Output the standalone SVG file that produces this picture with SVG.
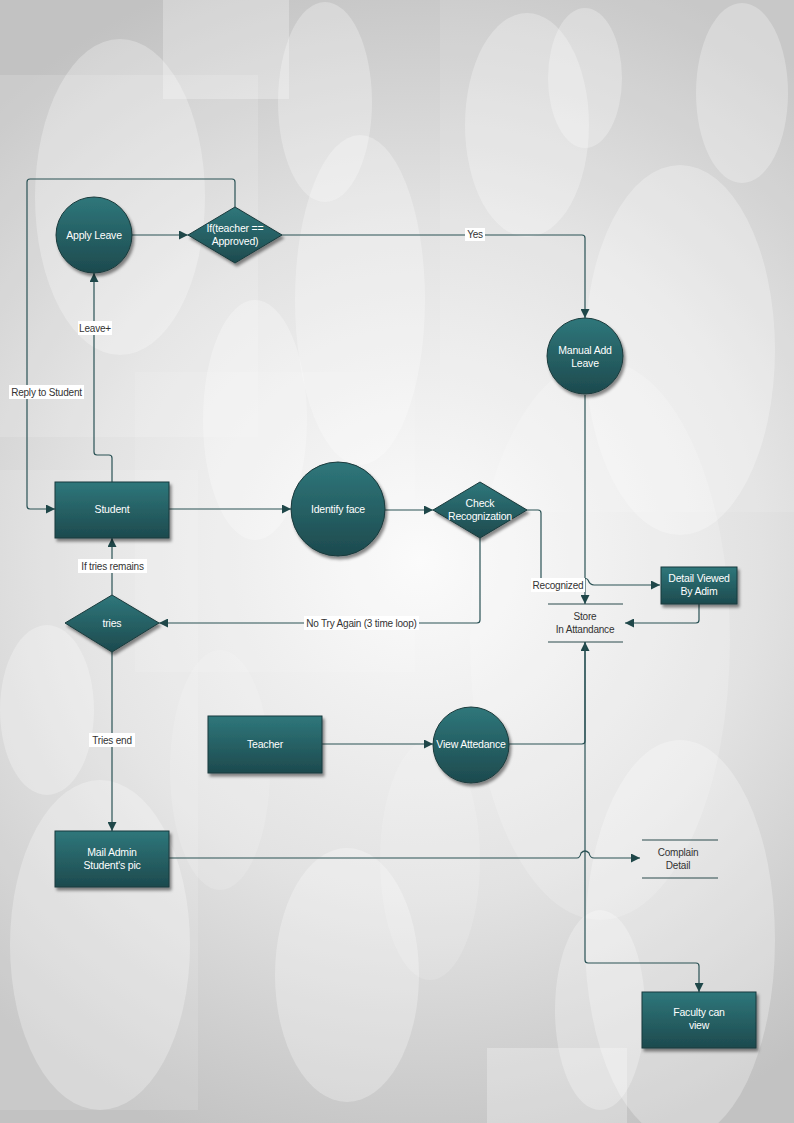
<svg xmlns="http://www.w3.org/2000/svg" width="794" height="1123" viewBox="0 0 794 1123">
  <defs>
    <radialGradient id="bg" cx="420" cy="560" r="620" gradientUnits="userSpaceOnUse">
      <stop offset="0" stop-color="#fbfbfb"/>
      <stop offset="0.55" stop-color="#e2e2e2"/>
      <stop offset="1" stop-color="#c2c2c2"/>
    </radialGradient>
    <linearGradient id="teal" x1="0" y1="0" x2="0" y2="1">
      <stop offset="0" stop-color="#2f777b"/>
      <stop offset="1" stop-color="#1d4a4e"/>
    </linearGradient>
    <filter id="shadow" x="-20%" y="-20%" width="150%" height="150%">
      <feDropShadow dx="2" dy="3" stdDeviation="1.8" flood-color="#000" flood-opacity="0.45"/>
    </filter>
    <marker id="arrow" viewBox="0 0 10 10" refX="10" refY="5" markerWidth="10" markerHeight="9" markerUnits="userSpaceOnUse" orient="auto">
      <path d="M0,0 L10,5 L0,10 z" fill="#1f4749"/>
    </marker>
  </defs>
  <style>
    .node { fill: url(#teal); stroke: #1a3a3c; stroke-width: 1; filter: url(#shadow); }
    .nt { font-family: "Liberation Sans", Arial, sans-serif; font-size: 10.5px; fill: #ffffff; text-anchor: middle; letter-spacing: -0.2px; }
    .edge { fill: none; stroke: #2a5255; stroke-width: 1.2; stroke-linejoin: round; }
    .arr { marker-end: url(#arrow); }
    .lbg { fill: #ffffff; }
    .lt { font-family: "Liberation Sans", Arial, sans-serif; font-size: 10px; fill: #333333; text-anchor: middle; letter-spacing: -0.2px; }
    .store { stroke: #2a4a4c; stroke-width: 1; }
    .haze { fill: #ffffff; fill-opacity: 0.28; }
  </style>

  <!-- page background -->
  <rect x="0" y="0" width="794" height="1123" fill="url(#bg)"/>
  <g id="background">
    <rect x="163" y="0" width="126" height="99" class="haze"/>
    <rect x="0" y="75" width="258" height="362" fill="#ffffff" fill-opacity="0.15"/>
    <rect x="0" y="470" width="198" height="640" fill="#ffffff" fill-opacity="0.12"/>
    <rect x="440" y="0" width="354" height="512" fill="#ffffff" fill-opacity="0.1"/>
    <rect x="135" y="372" width="280" height="300" fill="#ffffff" fill-opacity="0.1"/>
    <rect x="487" y="1048" width="140" height="75" class="haze"/>
    <ellipse cx="120" cy="197" rx="85" ry="158" class="haze"/>
    <ellipse cx="325" cy="102" rx="47" ry="100" class="haze"/>
    <ellipse cx="360" cy="300" rx="65" ry="165" class="haze"/>
    <ellipse cx="527" cy="125" rx="62" ry="112" class="haze"/>
    <ellipse cx="585" cy="78" rx="37" ry="70" class="haze"/>
    <ellipse cx="742" cy="93" rx="46" ry="90" class="haze"/>
    <ellipse cx="680" cy="350" rx="95" ry="185" class="haze"/>
    <ellipse cx="600" cy="640" rx="130" ry="280" fill="#ffffff" fill-opacity="0.18"/>
    <ellipse cx="255" cy="420" rx="52" ry="120" class="haze"/>
    <ellipse cx="47" cy="710" rx="47" ry="85" class="haze"/>
    <ellipse cx="100" cy="945" rx="90" ry="165" class="haze"/>
    <ellipse cx="220" cy="770" rx="50" ry="120" fill="#ffffff" fill-opacity="0.15"/>
    <ellipse cx="347" cy="975" rx="72" ry="127" class="haze"/>
    <ellipse cx="430" cy="860" rx="50" ry="120" fill="#ffffff" fill-opacity="0.15"/>
    <ellipse cx="680" cy="940" rx="95" ry="200" class="haze"/>
    <ellipse cx="600" cy="1010" rx="45" ry="100" class="haze"/>
  </g>

  <!-- connectors -->
  <g id="connectors">
    <!-- reply loop from decision back to student -->
    <path class="edge arr" d="M235,207 V182 Q235,179 232,179 H30 Q27,179 27,182 V506 Q27,509 30,509 H55"/>
    <!-- student to apply leave -->
    <path class="edge arr" d="M112,482 V458 Q112,455 109,455 H97 Q94,455 94,452 V273"/>
    <!-- apply leave to decision -->
    <path class="edge arr" d="M132,235 H188"/>
    <!-- yes branch -->
    <path class="edge arr" d="M282,235 H582 Q585,235 585,238 V318"/>
    <!-- manual add leave to store -->
    <path class="edge arr" d="M585,395 V604"/>
    <!-- student to identify face -->
    <path class="edge arr" d="M169,509 H291"/>
    <!-- identify face to check -->
    <path class="edge arr" d="M385,510 H433"/>
    <!-- recognized branch with hop -->
    <path class="edge arr" d="M527,510 H538 Q541,510 541,513 V582 Q541,585 544,585 H579 Q582,585 583,580 Q586,577 588,580 Q590,585 594,585 H660"/>
    <!-- not recognized back to tries -->
    <path class="edge arr" d="M480,538 V620 Q480,623 477,623 H159"/>
    <!-- tries remain to student -->
    <path class="edge arr" d="M112,595 V538"/>
    <!-- tries end to mail admin -->
    <path class="edge arr" d="M112,652 V831"/>
    <!-- detail viewed to store -->
    <path class="edge arr" d="M699,604 V620 Q699,623 696,623 H625"/>
    <!-- teacher to view attendance -->
    <path class="edge arr" d="M322,744 H433"/>
    <!-- view attendance to store -->
    <path class="edge arr" d="M509,744 H582 Q585,744 585,741 V642"/>
    <!-- store to faculty -->
    <path class="edge arr" d="M585,642 V960 Q585,963 588,963 H696 Q699,963 699,966 V992"/>
    <!-- mail admin to complain detail with hop -->
    <path class="edge arr" d="M169,858 H577 Q580,858 581,853 Q585,849 589,853 Q590,858 594,858 H640"/>
  </g>

  <!-- connector labels -->
  <g id="labels">
    <rect class="lbg" x="9" y="385" width="75" height="14"/>
    <text class="lt" x="46.5" y="396">Reply to Student</text>
    <rect class="lbg" x="78" y="321" width="34" height="14"/>
    <text class="lt" x="95" y="332">Leave+</text>
    <rect class="lbg" x="465" y="228" width="20" height="13"/>
    <text class="lt" x="475" y="238">Yes</text>
    <rect class="lbg" x="78" y="559" width="69" height="14"/>
    <text class="lt" x="112.5" y="570">If tries remains</text>
    <rect class="lbg" x="304" y="616" width="115" height="14"/>
    <text class="lt" x="361.5" y="627">No Try Again (3 time loop)</text>
    <rect class="lbg" x="531" y="578" width="54" height="14"/>
    <text class="lt" x="558" y="589">Recognized</text>
    <rect class="lbg" x="89" y="733" width="46" height="14"/>
    <text class="lt" x="112" y="744">Tries end</text>
  </g>

  <!-- nodes -->
  <g id="apply-leave">
    <circle class="node" cx="94" cy="235" r="38"/>
    <text class="nt" x="94" y="239">Apply Leave</text>
  </g>
  <g id="teacher-approved">
    <polygon class="node" points="235,207 282,235 235,263 188,235"/>
    <text class="nt" x="235" y="232">If(teacher ==</text>
    <text class="nt" x="235" y="245">Approved)</text>
  </g>
  <g id="manual-add-leave">
    <circle class="node" cx="585" cy="356" r="38"/>
    <text class="nt" x="585" y="354">Manual Add</text>
    <text class="nt" x="585" y="367">Leave</text>
  </g>
  <g id="student">
    <rect class="node" x="55" y="482" width="114" height="56"/>
    <text class="nt" x="112" y="513">Student</text>
  </g>
  <g id="identify-face">
    <circle class="node" cx="338" cy="509" r="47"/>
    <text class="nt" x="338" y="513">Identify face</text>
  </g>
  <g id="check-recognization">
    <polygon class="node" points="480,482 527,510 480,538 433,510"/>
    <text class="nt" x="480" y="507">Check</text>
    <text class="nt" x="480" y="520">Recognization</text>
  </g>
  <g id="detail-viewed">
    <rect class="node" x="661" y="567" width="76" height="37"/>
    <text class="nt" x="699" y="582">Detail Viewed</text>
    <text class="nt" x="699" y="595">By Adim</text>
  </g>
  <g id="store-attendance">
    <line class="store" x1="548" y1="604" x2="623" y2="604"/>
    <line class="store" x1="548" y1="642" x2="623" y2="642"/>
    <text class="lt" x="585" y="620">Store</text>
    <text class="lt" x="585" y="633">In Attandance</text>
  </g>
  <g id="tries">
    <polygon class="node" points="112,595 159,623 112,652 65,623"/>
    <text class="nt" x="112" y="627">tries</text>
  </g>
  <g id="teacher">
    <rect class="node" x="208" y="716" width="114" height="57"/>
    <text class="nt" x="265" y="748">Teacher</text>
  </g>
  <g id="view-attedance">
    <circle class="node" cx="471" cy="745" r="38"/>
    <text class="nt" x="471" y="748">View Attedance</text>
  </g>
  <g id="mail-admin">
    <rect class="node" x="55" y="831" width="114" height="56"/>
    <text class="nt" x="112" y="856">Mail Admin</text>
    <text class="nt" x="112" y="869">Student's pic</text>
  </g>
  <g id="complain-detail">
    <line class="store" x1="642" y1="840" x2="718" y2="840"/>
    <line class="store" x1="642" y1="878" x2="718" y2="878"/>
    <text class="lt" x="678" y="856">Complain</text>
    <text class="lt" x="678" y="869">Detail</text>
  </g>
  <g id="faculty-view">
    <rect class="node" x="642" y="992" width="114" height="56"/>
    <text class="nt" x="699" y="1016">Faculty can</text>
    <text class="nt" x="699" y="1029">view</text>
  </g>
</svg>
